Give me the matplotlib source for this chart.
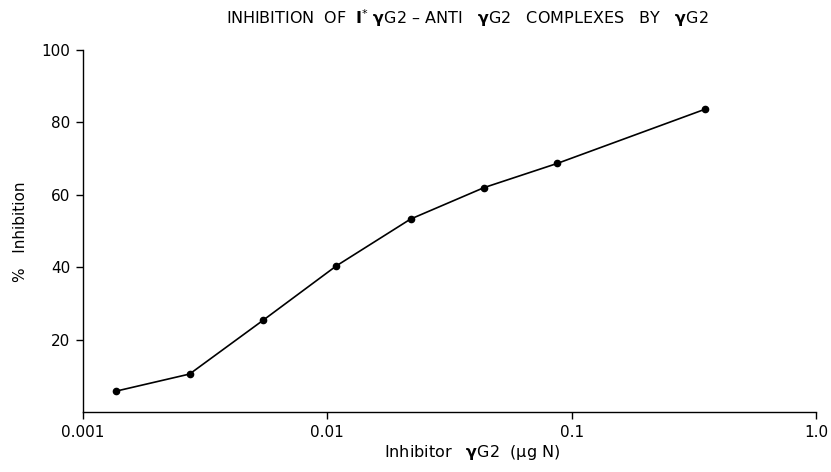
import matplotlib.pyplot as plt
from matplotlib.ticker import FixedLocator, NullLocator

# inhibitor amount (ug N) and % inhibition
inhibitor = [0.00137, 0.00273, 0.00547, 0.0109, 0.0219, 0.0438, 0.0875, 0.35]
inhibition = [5.8, 10.5, 25.4, 40.4, 53.3, 62.0, 68.7, 83.6]

x_ticks = [0.001, 0.01, 0.1, 1.0]
x_tick_labels = ["0.001", "0.01", "0.1", "1.0"]
y_ticks = [20, 40, 60, 80, 100]

plt.rcParams["font.family"] = ["DejaVu Sans"]

fig = plt.figure(figsize=(8.31, 4.72), dpi=100)
ax = fig.add_axes([0.0999, 0.127, 0.882, 0.767])

ax.plot(
    inhibitor,
    inhibition,
    color="black",
    linewidth=1.2,
    marker="o",
    markersize=4.5
)

ax.set_xscale("log")
ax.set_xlim(0.001, 1.0)
ax.set_ylim(0, 100)

ax.xaxis.set_major_locator(FixedLocator(x_ticks))
ax.xaxis.set_minor_locator(NullLocator())
ax.set_xticklabels(x_tick_labels)
ax.set_yticks(y_ticks)

for side in ["top", "right"]:
    ax.spines[side].set_visible(False)
for side in ["left", "bottom"]:
    ax.spines[side].set_linewidth(1.0)

ax.tick_params(direction="out", length=5, width=1.0, labelsize=11, pad=4)

fig.text(
    0.562, 0.962,
    r"INHIBITION  OF  $\mathbf{I}^{*}$ $\mathbf{\gamma}$G2 – ANTI   $\mathbf{\gamma}$G2   COMPLEXES   BY   $\mathbf{\gamma}$G2",
    ha="center", va="center", fontsize=11.5
)

fig.text(
    0.568, 0.042,
    r"Inhibitor   $\mathbf{\gamma}$G2  (µg N)",
    ha="center", va="center", fontsize=11.5
)

fig.text(
    0.025, 0.51,
    "%   Inhibition",
    ha="center", va="center", rotation=90, fontsize=11
)

fig.savefig("out.png", dpi=100, facecolor="white")
